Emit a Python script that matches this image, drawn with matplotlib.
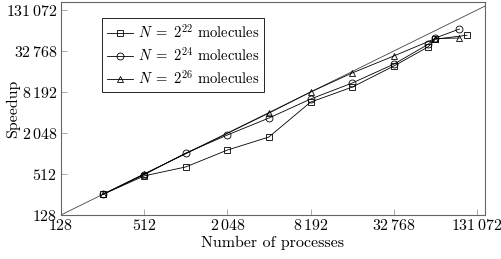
import matplotlib
matplotlib.use("Agg")
import matplotlib.pyplot as plt

plt.rcParams['font.family'] = 'cmr10'
plt.rcParams['mathtext.fontset'] = 'cm'
plt.rcParams['axes.formatter.use_mathtext'] = True

# Data (processes vs. speedup)
p22 = [256, 512, 1024, 2048, 4096, 8192, 16384, 32768, 58000, 65536, 111000]
s22 = [256, 480, 650, 1150, 1790, 5820, 9670, 19700, 37600, 49000, 56000]

p24 = [256, 512, 1024, 2048, 4096, 8192, 16384, 32768, 58000, 65536, 98000]
s24 = [256, 500, 1040, 1915, 3400, 6460, 11100, 21000, 41000, 51000, 69000]

p26 = [256, 512, 4096, 8192, 16384, 32768, 65536, 98000]
s26 = [256, 512, 4020, 8192, 15600, 27700, 50000, 51000]

ticks = [128, 512, 2048, 8192, 32768, 131072]
tick_labels = [r"$128$", r"$512$", r"$2\,048$", r"$8\,192$", r"$32\,768$", r"$131\,072$"]

fig = plt.figure(figsize=(5.02, 2.59), dpi=100)
ax = fig.add_axes([0.1215, 0.170, 0.8445, 0.822])

xmax, ymax = 150000, 172000
ax.plot([128, xmax], [128, xmax], color='#444444', lw=0.6)

style = dict(color='black', lw=0.6, markerfacecolor='none', markeredgewidth=0.6)
ax.plot(p22, s22, marker='s', markersize=5, label=r"$N\;=\;2^{22}$ molecules", **style)
ax.plot(p24, s24, marker='o', markersize=5, label=r"$N\;=\;2^{24}$ molecules", **style)
ax.plot(p26, s26, marker='^', markersize=4.5, label=r"$N\;=\;2^{26}$ molecules", **style)

ax.set_xscale('log', base=2)
ax.set_yscale('log', base=2)
ax.set_xlim(128, xmax)
ax.set_ylim(128, ymax)
ax.set_xticks(ticks)
ax.set_xticklabels(tick_labels)
ax.set_yticks(ticks)
ax.set_yticklabels(tick_labels)
ax.minorticks_off()
ax.tick_params(direction='in', length=4, width=0.5, color='#888888', labelsize=11.5, pad=2.5)

for sp in ax.spines.values():
    sp.set_color('#666666')
    sp.set_linewidth(0.8)

ax.set_xlabel("Number of processes", fontsize=11.5)
ax.set_ylabel("Speedup", fontsize=11.5)
ax.xaxis.set_label_coords(0.5, -0.10)
ax.yaxis.set_label_coords(-0.097, 0.5)

leg = ax.legend(loc='upper left', bbox_to_anchor=(0.097, 0.925), fontsize=10.5,
                fancybox=False, framealpha=1, edgecolor='black', handlelength=1.8,
                handletextpad=0.3, borderpad=0.35, labelspacing=0.35, borderaxespad=0)
leg.get_frame().set_linewidth(0.6)

fig.savefig("out.png", dpi=100)
